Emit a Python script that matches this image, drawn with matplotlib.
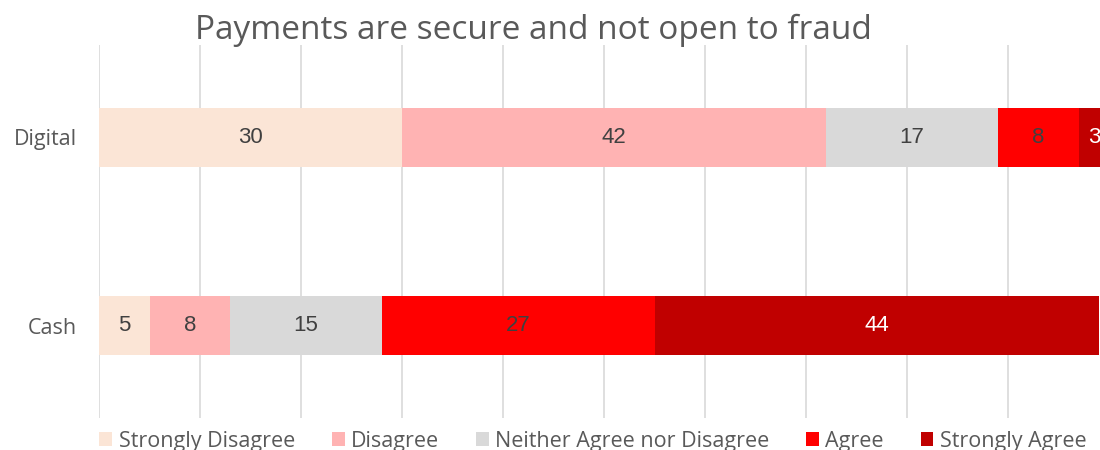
import matplotlib.pyplot as plt
import numpy as np

plt.rcParams['font.family'] = ['Open Sans', 'DejaVu Sans']

channels = ['Cash', 'Digital']
responses = ['Strongly Disagree', 'Disagree', 'Neither Agree nor Disagree',
             'Agree', 'Strongly Agree']
cash = [5, 8, 15, 27, 44]
digital = [30, 42, 17, 8, 3]
colors = ['#FBE5D6', '#FFB3B3', '#D9D9D9', '#FF0000', '#C00000']
label_colors = ['#404040', '#404040', '#404040', '#404040', '#FFFFFF']

values = np.array([cash, digital])

fig = plt.figure(figsize=(11, 4.5), dpi=100)
ax = fig.add_axes([99 / 1100, 32 / 450, 1010 / 1100, 373 / 450])

y = np.arange(len(channels))
left = np.zeros(len(channels))
for i, resp in enumerate(responses):
    bars = ax.barh(y, values[:, i], left=left, height=0.31, color=colors[i],
                   label=resp, zorder=2)
    ax.bar_label(bars, labels=[str(v) for v in values[:, i]], label_type='center',
                 color=label_colors[i], fontsize=16, family='Liberation Sans')
    left += values[:, i]

ax.set_xlim(0, 100)
ax.set_ylim(-0.49, 1.49)
ax.set_xticks(np.arange(0, 101, 10))
ax.set_yticks(y)
ax.set_yticklabels(channels, fontsize=15.5, color='#595959')
ax.tick_params(axis='x', labelbottom=False, length=0)
ax.tick_params(axis='y', length=0, pad=16)
ax.grid(axis='x', color='#D9D9D9', linewidth=1.2, zorder=0)
for s in ax.spines.values():
    s.set_visible(False)

fig.text(533 / 1100, 1 - 30 / 450, 'Payments are secure and not open to fraud',
         ha='center', va='center', fontsize=24, color='#595959')

fig.legend(loc='center', bbox_to_anchor=(593 / 1100, 9 / 450), ncol=5,
           frameon=False, fontsize=15.5, labelcolor='#595959',
           handlelength=0.6, handleheight=0.6, handletextpad=0.3,
           columnspacing=1.7)

fig.savefig('out.png')
